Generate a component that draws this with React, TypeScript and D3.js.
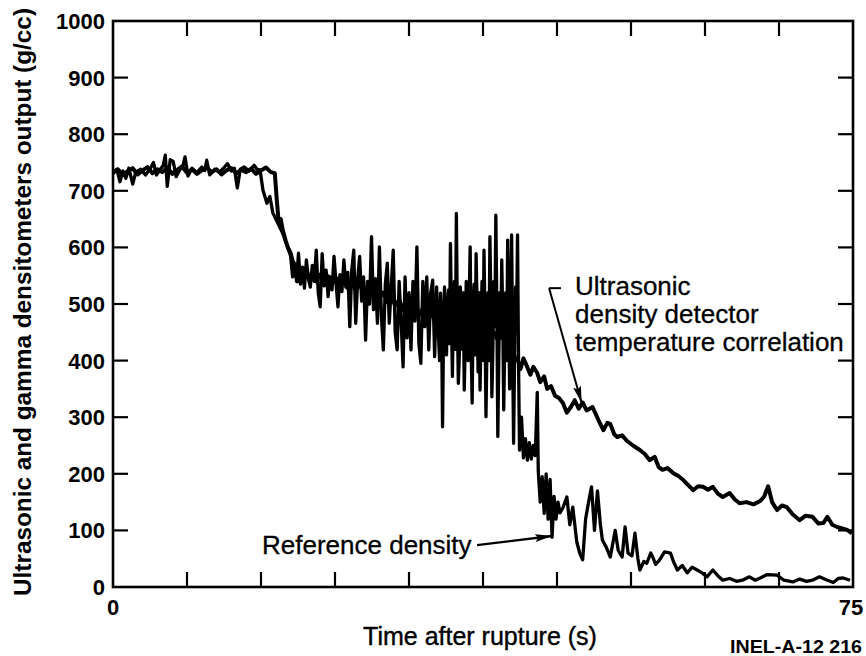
import React, { useEffect, useRef } from 'react';
import * as d3 from 'd3';

// Ultrasonic density detector (temperature correlation)
const timeUltrasonic = [
  0.0, 0.5, 1.0, 1.5, 2.0, 2.5, 3.0, 3.5, 4.0, 4.5, 5.0, 5.5, 6.0, 6.5, 7.0, 7.5, 8.0, 8.5, 9.0, 9.5,
  10.0, 10.5, 11.0, 11.5, 12.0, 12.5, 13.0, 13.5, 14.0, 14.5, 15.0, 15.5, 16.0, 16.4, 16.6, 16.8, 17.0, 17.2, 17.5, 17.7,
  18.0, 18.3, 18.7, 19.0, 19.4, 19.8, 20.2, 20.6, 21.0, 21.4, 21.8, 22.2, 22.6, 23.0, 23.4, 23.8, 24.2, 24.6, 25.0, 25.4,
  25.8, 26.2, 26.6, 27.0, 27.4, 27.8, 28.2, 28.6, 29.0, 29.4, 29.8, 30.2, 30.6, 31.0, 31.4, 31.8, 32.2, 32.6, 33.0, 33.4,
  33.8, 34.2, 34.6, 35.0, 35.4, 35.8, 36.2, 36.6, 37.0, 37.4, 37.8, 38.2, 38.6, 39.0, 39.4, 39.8, 40.2, 40.6, 41.0, 41.3,
  41.6, 42.0, 42.3, 42.6, 43.0, 43.3, 43.7, 44.0, 44.4, 44.8, 45.2, 45.6, 46.0, 46.4, 46.8, 47.2, 47.6, 48.0, 48.6, 49.2,
  49.7, 50.1, 50.4, 50.8, 51.1, 51.6, 52.1, 52.7, 53.4, 53.9, 54.4, 54.9, 55.3, 55.7, 56.2, 56.8, 57.3, 57.8, 58.3, 58.8,
  59.3, 59.8, 60.3, 60.8, 61.3, 61.8, 62.5, 63.0, 63.5, 64.2, 64.9, 65.6, 66.0, 66.4, 66.8, 67.3, 67.8, 68.3, 68.9, 69.6,
  70.2, 70.9, 71.5, 72.0, 72.4, 72.9, 73.4, 74.0, 74.4, 74.9,
];
const densityUltrasonic = [
  733, 738, 728, 735, 740, 729, 736, 742, 731, 738, 733, 741, 730, 737, 743, 732, 738, 730, 736, 741,
  733, 738, 729, 736, 740, 731, 737, 733, 739, 730, 736, 741, 733, 731, 684, 643, 650, 631, 612, 601,
  590, 570, 540, 548, 562, 545, 556, 540, 552, 537, 549, 535, 546, 532, 543, 528, 540, 524, 535, 520,
  530, 515, 526, 510, 520, 503, 514, 497, 508, 490, 502, 486, 497, 480, 492, 475, 487, 470, 482, 465,
  477, 460, 472, 456, 467, 452, 463, 448, 458, 444, 455, 440, 450, 436, 446, 430, 420, 410, 402, 385,
  404, 388, 375, 389, 378, 362, 372, 350, 355, 338, 334, 325, 308, 318, 330, 315, 326, 312, 318, 295,
  277, 290, 288, 270, 265, 268, 258, 250, 242, 235, 224, 230, 212, 207, 210, 201, 196, 189, 180, 171,
  178, 177, 172, 177, 165, 159, 166, 155, 148, 150, 146, 152, 160, 178, 150, 136, 144, 141, 128, 118,
  126, 124, 112, 113, 124, 110, 106, 103, 101, 95,
];

// Reference (gamma) density
const timeReference = [
  0.0, 0.4, 0.7, 1.0, 1.3, 1.6, 2.0, 2.3, 2.8, 3.3, 3.8, 4.1, 4.4, 4.8, 5.1, 5.3, 5.5, 5.8, 6.1, 6.4,
  6.8, 7.1, 7.3, 7.6, 8.0, 8.5, 9.0, 9.3, 9.5, 9.8, 10.3, 10.8, 11.3, 11.6, 12.0, 12.3, 12.6, 12.9, 13.3, 13.8,
  14.3, 14.6, 14.9, 15.2, 15.6, 15.9, 16.2, 16.7, 17.2, 17.6,
  18.0, 18.2, 18.4, 18.6, 18.8, 19.0, 19.2, 19.4, 19.6, 19.8, 20.0, 20.2, 20.4, 20.6, 20.8, 21.0, 21.2, 21.4, 21.6, 21.8,
  22.0, 22.2, 22.4, 22.6, 22.8, 23.0, 23.2, 23.4, 23.6, 23.8, 24.0, 24.2, 24.4, 24.6, 24.8, 25.0, 25.2, 25.4, 25.6, 25.8,
  26.0, 26.2, 26.4, 26.6, 26.8, 27.0, 27.2, 27.4, 27.6, 27.8, 28.0, 28.2, 28.4, 28.6, 28.8, 29.0, 29.2, 29.4, 29.6, 29.8,
  30.0, 30.2, 30.4, 30.6, 30.8, 31.0, 31.2, 31.4, 31.6, 31.8, 32.0, 32.2, 32.4, 32.6, 32.8,
  33.0, 33.1, 33.2, 33.3, 33.4, 33.5, 33.6, 33.7, 33.8, 33.9, 34.0, 34.1, 34.2, 34.3, 34.4, 34.5, 34.6, 34.7, 34.8, 34.9,
  35.0, 35.1, 35.2, 35.3, 35.4, 35.5, 35.6, 35.7, 35.8, 35.9, 36.0, 36.1, 36.2, 36.3, 36.4, 36.5, 36.6, 36.7, 36.8, 36.9,
  37.0, 37.1, 37.2, 37.3, 37.4, 37.5, 37.6, 37.7, 37.8, 37.9, 38.0, 38.1, 38.2, 38.3, 38.4, 38.5, 38.6, 38.7, 38.8, 38.9,
  39.0, 39.1, 39.2, 39.3, 39.4, 39.5, 39.6, 39.7, 39.8, 39.9, 40.0, 40.1, 40.2, 40.3, 40.4, 40.5, 40.6, 40.7, 40.8, 40.9,
  41.0, 41.1, 41.2,
  41.4, 41.6, 41.8, 42.0, 42.2, 42.4, 42.6, 42.8, 43.0, 43.1,
  43.3, 43.5, 43.7, 43.9, 44.1, 44.3, 44.5, 44.7, 44.9, 45.1, 45.3, 45.6, 46.0, 46.3, 46.6, 47.0, 47.3, 47.6, 47.9, 48.2,
  48.5, 48.8, 49.1, 49.4, 49.6, 50.0, 50.4, 50.9, 51.2, 51.6, 51.9, 52.2, 52.6, 52.9, 53.2, 53.4, 53.8, 54.1, 54.5, 54.7,
  55.0, 55.4, 55.9, 56.5, 56.8, 57.2, 57.7, 58.2, 58.7, 59.2, 59.7, 60.2, 60.8, 61.3, 61.8, 62.5, 63.2, 63.8, 64.5, 65.1,
  65.6, 66.3, 67.3, 68.0, 68.9, 69.6, 70.3, 70.9, 71.6, 72.4, 73.0, 73.5, 74.0, 74.7,
];
const densityReference = [
  730, 738, 716, 735, 722, 740, 712, 733, 738, 728, 740, 750, 728, 738, 745, 763, 708, 755, 752, 725,
  738, 745, 760, 726, 740, 732, 742, 736, 754, 728, 738, 733, 742, 748, 735, 740, 705, 738, 742, 735,
  745, 738, 737, 701, 678, 690, 661, 643, 625, 605,
  585, 548, 572, 540, 590, 535, 565, 528, 578, 545, 530, 568, 540, 595, 520, 495, 589, 532, 560, 513,
  548, 525, 584, 538, 495, 552, 522, 578, 530, 556, 460, 560, 595, 466, 545, 584, 505, 548, 436, 540,
  500, 619, 490, 545, 466, 601, 480, 419, 535, 572, 466, 530, 595, 450, 419, 540, 470, 389, 548, 440,
  520, 419, 540, 470, 601, 430, 395, 540, 460, 548, 419, 520, 542, 407, 530,
  440, 400, 519, 470, 283, 450, 530, 420, 410, 500, 525, 430, 607, 480, 372, 510, 540, 420, 660, 480,
  360, 410, 530, 500, 420, 520, 348, 430, 540, 470, 400, 510, 601, 420, 325, 490, 535, 410, 589, 500,
  380, 520, 348, 450, 540, 400, 595, 480, 301, 420, 520, 400, 619, 500, 336, 420, 540, 460, 657, 500,
  266, 400, 520, 440, 578, 480, 313, 430, 520, 400, 613, 480, 350, 500, 622, 420, 254, 400, 530, 460,
  622, 400, 242,
  300, 228, 262, 224, 255, 226, 250, 232, 344, 205,
  150, 195, 130, 200, 120, 190, 88, 160, 120, 150, 131, 140, 159, 110, 141, 80, 60, 48, 120, 150,
  177, 100, 170, 110, 83, 70, 53, 100, 65, 53, 106, 60, 55, 95, 50, 30, 45, 42, 60, 53,
  40, 48, 62, 60, 45, 30, 38, 25, 35, 30, 25, 18, 30, 20, 12, 15, 10, 12, 18, 12,
  16, 22, 21, 12, 9, 14, 10, 12, 18, 12, 8, 15, 16, 12,
];

const yTickValues = [0, 100, 200, 300, 400, 500, 600, 700, 800, 900, 1000];
const xTickValues = [0, 7.5, 15, 22.5, 30, 37.5, 45, 52.5, 60, 67.5, 75];
const xLabelValues = [0, 75];

const FONT = '"Liberation Sans", Arial, Helvetica, sans-serif';

export default function App() {
  const ref = useRef<SVGSVGElement>(null);

  useEffect(() => {
    const svg = d3.select(ref.current);
    svg.selectAll('*').remove();

    const left = 113, right = 853, top = 21, bottom = 587;
    const x = d3.scaleLinear().domain([0, 75]).range([left, right]);
    const y = d3.scaleLinear().domain([0, 1000]).range([bottom, top]);

    svg.append('rect').attr('width', 866).attr('height', 656).attr('fill', '#fff');

    const defs = svg.append('defs');
    defs.append('marker')
      .attr('id', 'arrowHead')
      .attr('markerUnits', 'userSpaceOnUse')
      .attr('markerWidth', 18).attr('markerHeight', 10)
      .attr('refX', 17).attr('refY', 4)
      .attr('orient', 'auto')
      .append('path').attr('d', 'M0,0 L17,4 L0,8 L3,4 Z').attr('fill', '#000');

    const line = d3.line<[number, number]>()
      .x(d => x(d[0]))
      .y(d => y(d[1]));

    const n = Math.min(timeReference.length, densityReference.length);
    const refData: [number, number][] = timeReference.slice(0, n).map((t, i) => [t, densityReference[i]]);
    const ultraData: [number, number][] = timeUltrasonic.map((t, i) => [t, densityUltrasonic[i]]);

    svg.append('path').datum(refData).attr('d', line)
      .attr('fill', 'none').attr('stroke', '#000').attr('stroke-width', 3.3)
      .attr('stroke-linejoin', 'round');
    svg.append('path').datum(ultraData).attr('d', line)
      .attr('fill', 'none').attr('stroke', '#000').attr('stroke-width', 4)
      .attr('stroke-linejoin', 'round');

    // frame
    svg.append('rect')
      .attr('x', left).attr('y', top)
      .attr('width', right - left).attr('height', bottom - top)
      .attr('fill', 'none').attr('stroke', '#000').attr('stroke-width', 2.6);

    const tickLen = 15;
    const ticks = svg.append('g').attr('stroke', '#000').attr('stroke-width', 2.2);
    yTickValues.slice(1, -1).forEach(v => {
      ticks.append('line').attr('x1', left).attr('x2', left + tickLen).attr('y1', y(v)).attr('y2', y(v));
      ticks.append('line').attr('x1', right).attr('x2', right - tickLen).attr('y1', y(v)).attr('y2', y(v));
    });
    xTickValues.slice(1, -1).forEach(t => {
      ticks.append('line').attr('x1', x(t)).attr('x2', x(t)).attr('y1', bottom).attr('y2', bottom - tickLen);
      ticks.append('line').attr('x1', x(t)).attr('x2', x(t)).attr('y1', top).attr('y2', top + tickLen);
    });

    // y tick labels
    svg.append('g').selectAll('text').data(yTickValues).enter().append('text')
      .attr('x', left - 8).attr('y', d => y(d)).attr('dy', '0.36em')
      .attr('text-anchor', 'end')
      .attr('font-family', FONT).attr('font-size', 22).attr('font-weight', 'bold')
      .text(d => String(d));

    // x tick labels
    svg.append('g').selectAll('text').data(xLabelValues).enter().append('text')
      .attr('x', d => x(d) + (d === 75 ? -2 : 0)).attr('y', 615)
      .attr('text-anchor', 'middle')
      .attr('font-family', FONT).attr('font-size', 22).attr('font-weight', 'bold')
      .text(d => String(d));

    // axis titles
    svg.append('text')
      .attr('transform', 'translate(31,302) rotate(-90)')
      .attr('text-anchor', 'middle')
      .attr('font-family', FONT).attr('font-size', 24).attr('font-weight', 'bold')
      .attr('textLength', 588).attr('lengthAdjust', 'spacingAndGlyphs')
      .text('Ultrasonic and gamma densitometers output (g/cc)');

    svg.append('text')
      .attr('x', 480).attr('y', 645)
      .attr('text-anchor', 'middle')
      .attr('font-family', FONT).attr('font-size', 25)
      .attr('stroke', '#000').attr('stroke-width', 0.4)
      .text('Time after rupture (s)');

    svg.append('text')
      .attr('x', 730).attr('y', 653)
      .attr('font-family', FONT).attr('font-size', 18).attr('font-weight', 'bold')
      .attr('textLength', 132).attr('lengthAdjust', 'spacingAndGlyphs')
      .text('INEL-A-12 216');

    // annotations
    const ann = svg.append('g')
      .attr('font-family', FONT).attr('font-size', 26)
      .attr('stroke', '#000').attr('stroke-width', 0.3);
    ann.append('text').attr('x', 575).attr('y', 295).text('Ultrasonic');
    ann.append('text').attr('x', 575).attr('y', 323).text('density detector');
    ann.append('text').attr('x', 575).attr('y', 351).text('temperature correlation');
    ann.append('text').attr('x', 262).attr('y', 554).text('Reference density');

    // leader for ultrasonic
    svg.append('line')
      .attr('x1', x(44.2)).attr('y1', y(528)).attr('x2', x(45.4)).attr('y2', y(528))
      .attr('stroke', '#000').attr('stroke-width', 2);
    svg.append('line')
      .attr('x1', x(44.2)).attr('y1', y(528)).attr('x2', x(47.5)).attr('y2', y(325))
      .attr('stroke', '#000').attr('stroke-width', 2)
      .attr('marker-end', 'url(#arrowHead)');

    // leader for reference
    svg.append('line')
      .attr('x1', x(36.9)).attr('y1', y(74)).attr('x2', x(44.5)).attr('y2', y(90))
      .attr('stroke', '#000').attr('stroke-width', 2.4)
      .attr('marker-end', 'url(#arrowHead)');
  }, []);

  return (
    <svg
      ref={ref}
      width={866}
      height={656}
      style={{ position: 'absolute', left: 0, top: 0, background: '#fff' }}
    />
  );
}
